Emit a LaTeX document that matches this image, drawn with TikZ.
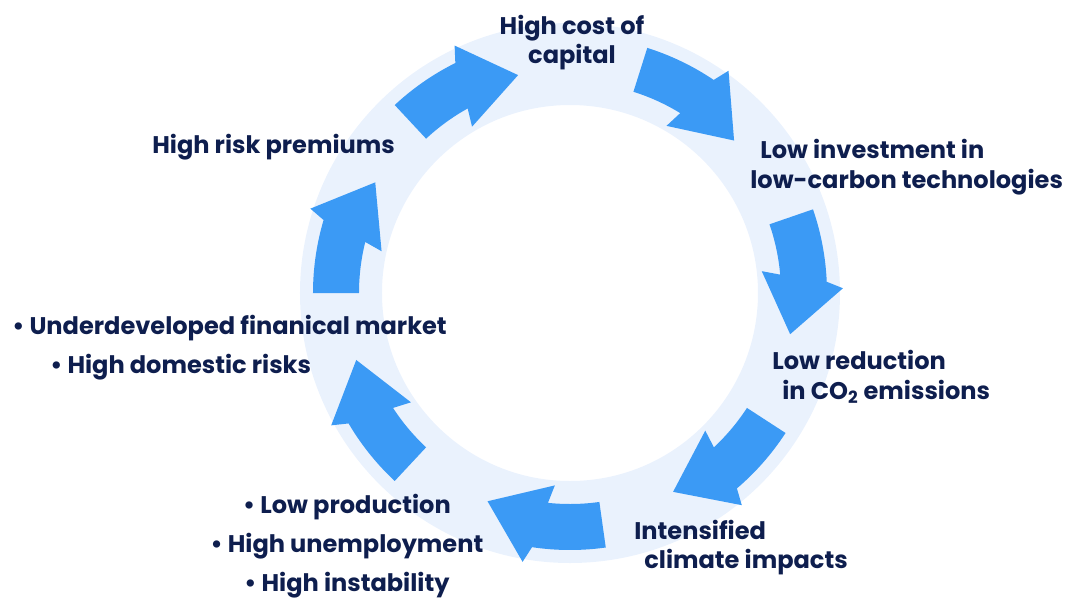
\documentclass[tikz,border=0pt]{standalone}
\usepackage{fontspec}
\setmainfont{Poppins}
\usepackage{xcolor}
\usepackage{tikz}
\usetikzlibrary{positioning}

\begin{document}
\begin{tikzpicture}[
  font=\bfseries\fontsize{13.7}{17}\selectfont,
  ring/.style={fill=ringblue, even odd rule},
  cycarrow/.style={fill=arrowblue},
  cyctext/.style={text=navytext, inner sep=0pt, anchor=west, align=left},
  bullettext/.style={cyctext, font=\bfseries\fontsize{13.7}{22}\selectfont}
]

\definecolor{ringblue}{RGB}{234,242,253}
\definecolor{arrowblue}{RGB}{59,154,245}
\definecolor{navytext}{RGB}{14,30,78}

% page frame, 1065 x 597 px at 0.02cm per px, centre of the ring at (570,293)
\useasboundingbox (-11.40,-6.08) rectangle (9.90,5.86);

\fill[ring] (0,0) circle[radius=5.40] (0,0) circle[radius=3.76];

% seven curved arrows, running clockwise; \t is the angle of the tail
\foreach \t in {180,133,72.5,19,-33,-82,-133} {
  \fill[cycarrow] (\t:5.14) arc[start angle=\t, end angle=\t-16.5, radius=5.14]
    -- (\t-18:5.46) -- (\t-29.6:4.48) -- (\t-12.5:3.86) -- (\t-14:4.22)
    arc[start angle=\t-14, end angle=\t, radius=4.22] -- cycle;
}

\node[cyctext, anchor=center, align=center] (capital) at (0.04,5.01)
  {High cost of\\capital};
\node[cyctext] (invest) at (3.60,2.51)
  {\hspace*{0.2cm}Low investment in\\low-carbon technologies};
\node[cyctext] (reduction) at (4.04,-1.67)
  {Low reduction\\\hspace*{0.2cm}in CO\textsubscript{2} emissions};
\node[cyctext] (impacts) at (1.28,-5.09)
  {Intensified\\\hspace*{0.2cm}climate impacts};
\node[cyctext] (premiums) at (-8.36,2.92) {High risk premiums};
\node[bullettext] (market) at (-11.16,-1.09)
  {\textbullet{} Underdeveloped finanical market\\\hspace*{0.76cm}\textbullet{} High domestic risks};
\node[bullettext, anchor=center, align=center] (production) at (-4.46,-5.06)
  {\textbullet{} Low production\\\textbullet{} High unemployment\\\textbullet{} High instability};

\end{tikzpicture}
\end{document}
